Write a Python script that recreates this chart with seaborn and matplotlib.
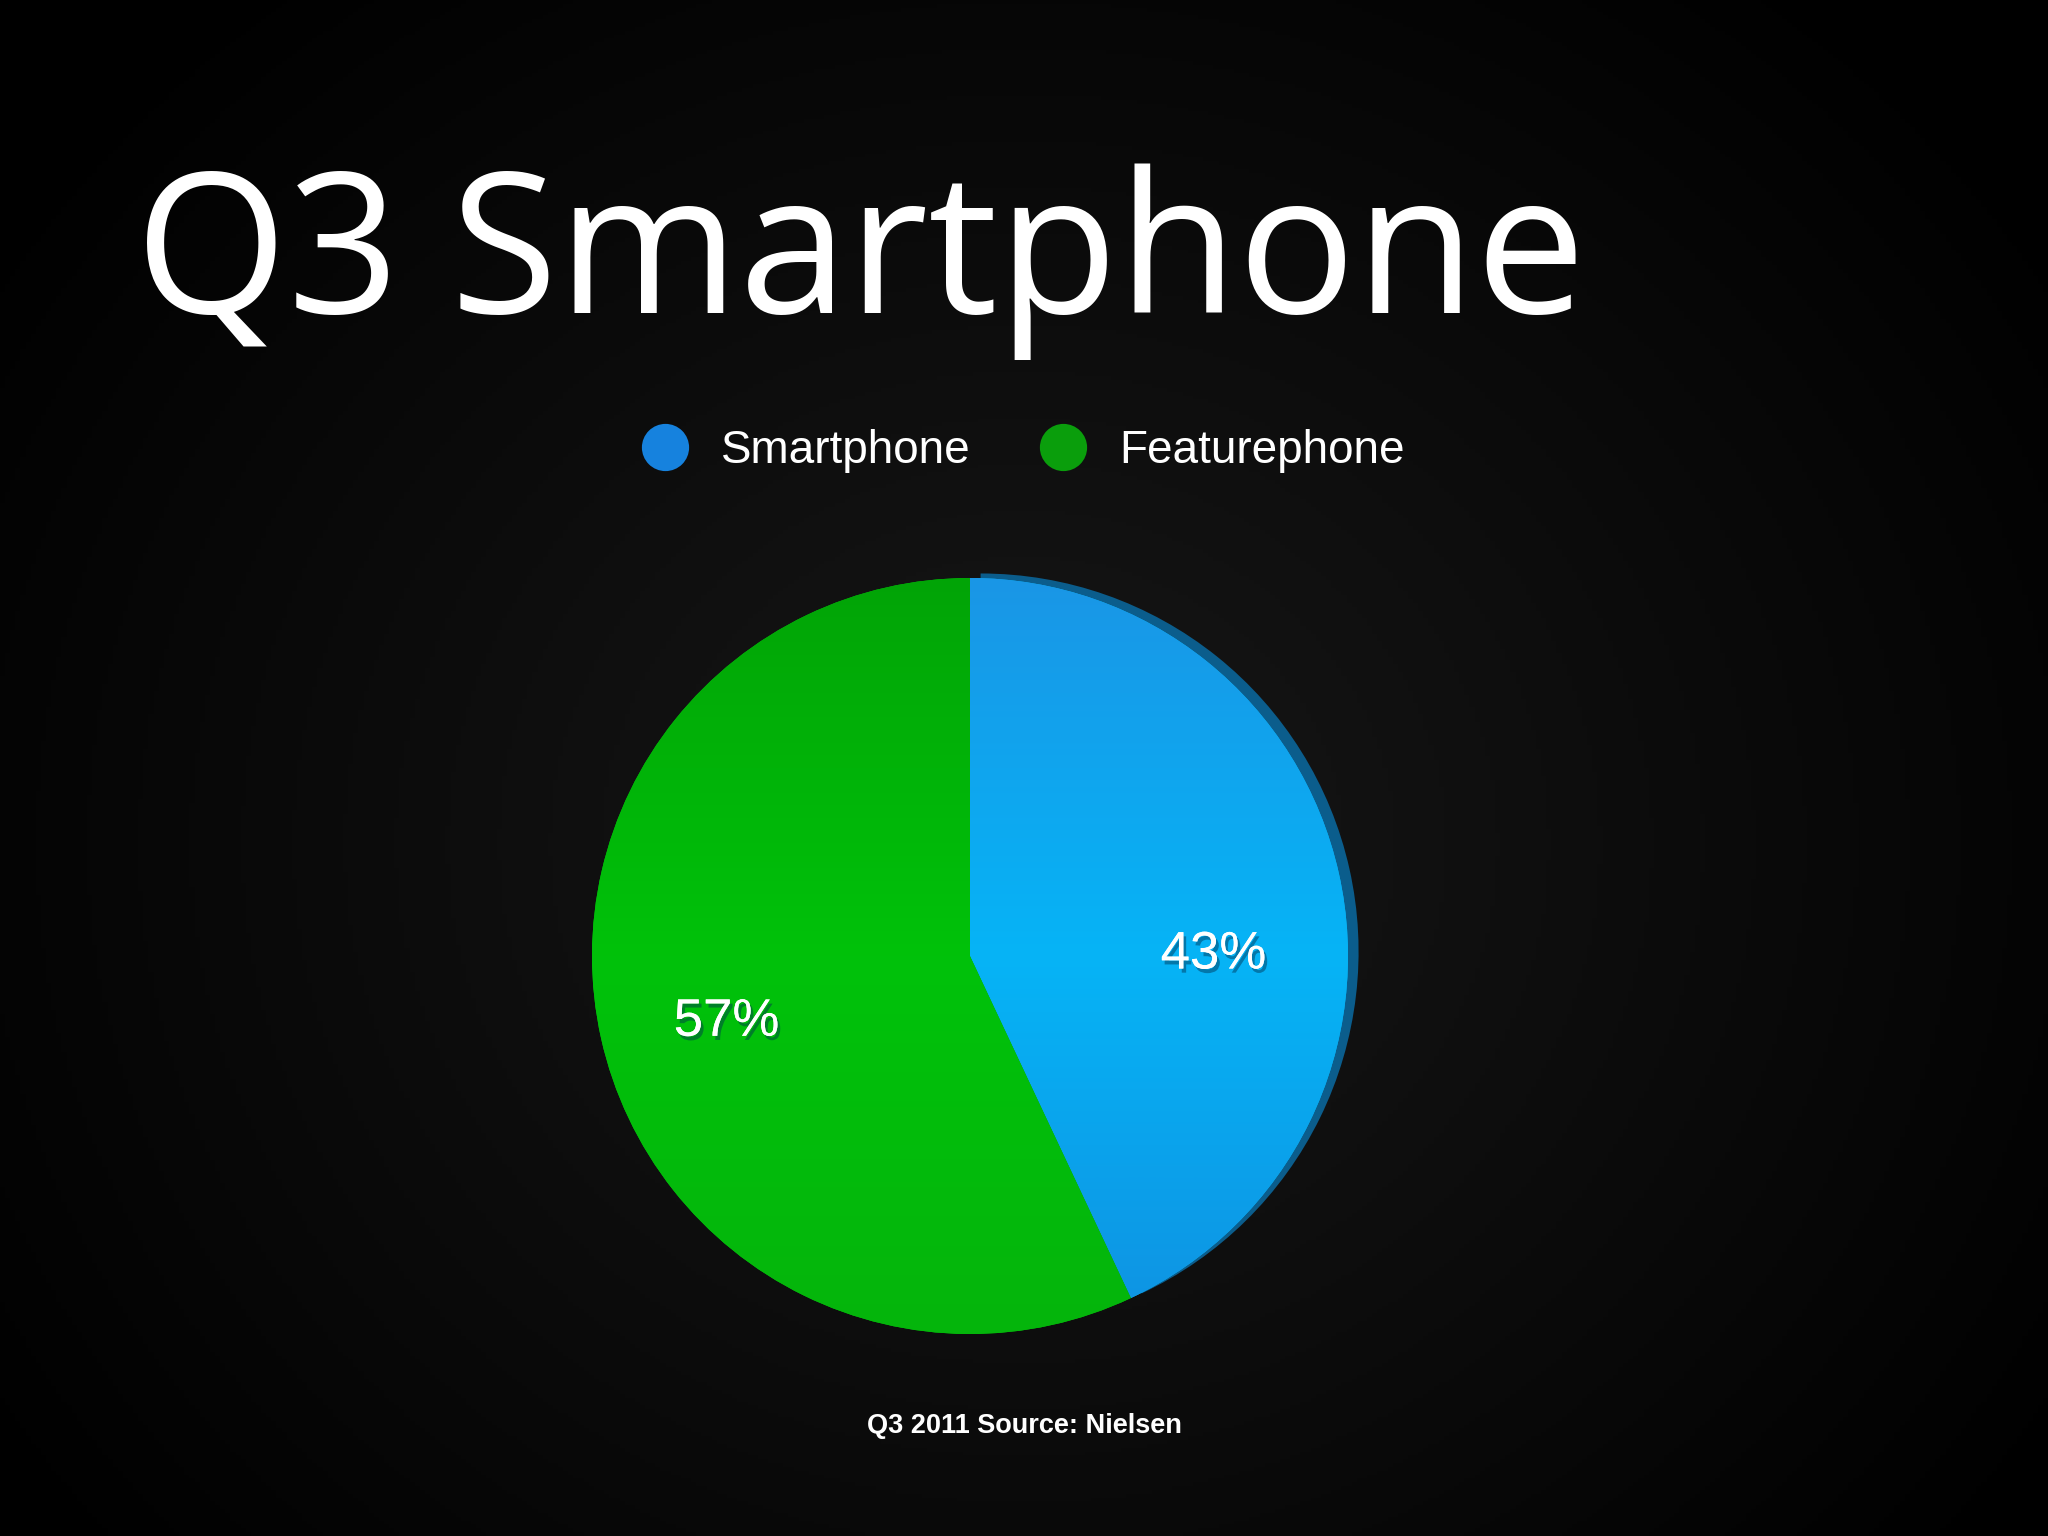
import matplotlib
matplotlib.use("Agg")
import matplotlib.pyplot as plt
import matplotlib.patheffects as pe
from matplotlib.colors import LinearSegmentedColormap
from matplotlib.lines import Line2D
from matplotlib.patches import Wedge
import numpy as np
import seaborn as sns

# data
labels = ["Smartphone", "Featurephone"]
shares = [43, 57]
title = "Q3 Smartphone"
source = "Q3 2011 Source: Nielsen"

# styling
pie_grad = [["#1a96e6", "#06b4f6", "#0f92e2"],   # smartphone: top -> mid -> bottom
            ["#02a406", "#00c20a", "#05b50c"]]   # featurephone
legend_colors = ["#1682de", "#0a9e0c"]
rim_color = "#0b5d8c"
label_shift = [(0.0, -0.14), (0.0, -0.03)]      # nudge for % labels

sns.set_theme(style="dark")
plt.rcParams["font.family"] = ["Liberation Sans", "DejaVu Sans"]

fig = plt.figure(figsize=(20.48, 15.36), dpi=100)
fig.patch.set_facecolor("black")

# dark radial background
bg = fig.add_axes([0, 0, 1, 1], zorder=0)
yy, xx = np.mgrid[0:1:400j, 0:1:400j]
r = np.sqrt(((xx - 0.5) * 1.2) ** 2 + ((yy - 0.45) * 1.0) ** 2)
shade = np.clip(0.095 - 0.13 * r, 0.0, 1.0)
bg.imshow(np.dstack([shade] * 3), extent=[0, 1, 0, 1], aspect="auto", origin="lower")
bg.set_axis_off()

# pie (axes a bit larger than the disc so the rim is not clipped)
cx, cy, rad, pad = 970, 956, 378, 1.06   # px
half = rad * pad
ax = fig.add_axes([(cx - half) / 2048, 1 - (cy + half) / 1536, 2 * half / 2048, 2 * half / 1536],
                  zorder=1)
ax.set_facecolor("none")
wedges, _ = ax.pie(shares, colors=[g[1] for g in pie_grad], startangle=90,
                   counterclock=False, radius=1.0, wedgeprops=dict(linewidth=0))
ax.set_xlim(-pad, pad)
ax.set_ylim(-pad, pad)
ax.set_aspect("equal")
ax.set_axis_off()

# dark rim behind the smartphone wedge (tilted-disc look)
w0 = wedges[0]
rim = Wedge((0.028, 0.012), 1.0, w0.theta1, w0.theta2, facecolor=rim_color,
            linewidth=0, zorder=w0.get_zorder() - 0.5)
ax.add_patch(rim)

# vertical gradient fill clipped to each wedge
grad = np.linspace(0, 1, 256).reshape(-1, 1)
for w, g in zip(wedges, pie_grad):
    cmap = LinearSegmentedColormap.from_list("g", [g[2], g[1], g[0]])
    im = ax.imshow(grad, extent=[-1, 1, -1, 1], origin="lower", cmap=cmap,
                   aspect="auto", zorder=w.get_zorder() + 0.1)
    im.set_clip_path(w)
ax.set_xlim(-pad, pad)
ax.set_ylim(-pad, pad)

shadow = [pe.withSimplePatchShadow(offset=(2, -3), shadow_rgbFace="#003050", alpha=0.45),
          pe.Normal()]
for w, val, (dx, dy) in zip(wedges, shares, label_shift):
    ang = np.deg2rad((w.theta1 + w.theta2) / 2)
    rr = 0.66
    ax.text(rr * np.cos(ang) + dx, rr * np.sin(ang) + dy, f"{val}%",
            ha="center", va="center", color="white", fontsize=38, zorder=5,
            path_effects=shadow)

# title
fig.text(0.066, 0.796, title, color="white", fontsize=141,
         fontfamily=["Open Sans", "DejaVu Sans"], ha="left", va="baseline")

# legend
handles = [Line2D([0], [0], marker="o", linestyle="none", markersize=34,
                  markerfacecolor=c, markeredgewidth=0) for c in legend_colors]
leg = fig.legend(handles, labels, loc="center", bbox_to_anchor=(0.4998, 0.7064), ncol=2,
                 frameon=False, handlelength=1.0, handletextpad=0.72, columnspacing=1.52,
                 prop=dict(family=["Liberation Sans"], size=33))
for t in leg.get_texts():
    t.set_color("white")

# source
fig.text(0.5, 0.067, source, color="white", fontsize=19.5, fontweight="bold",
         ha="center", va="baseline")

fig.savefig("out.png", dpi=100, facecolor="black")
